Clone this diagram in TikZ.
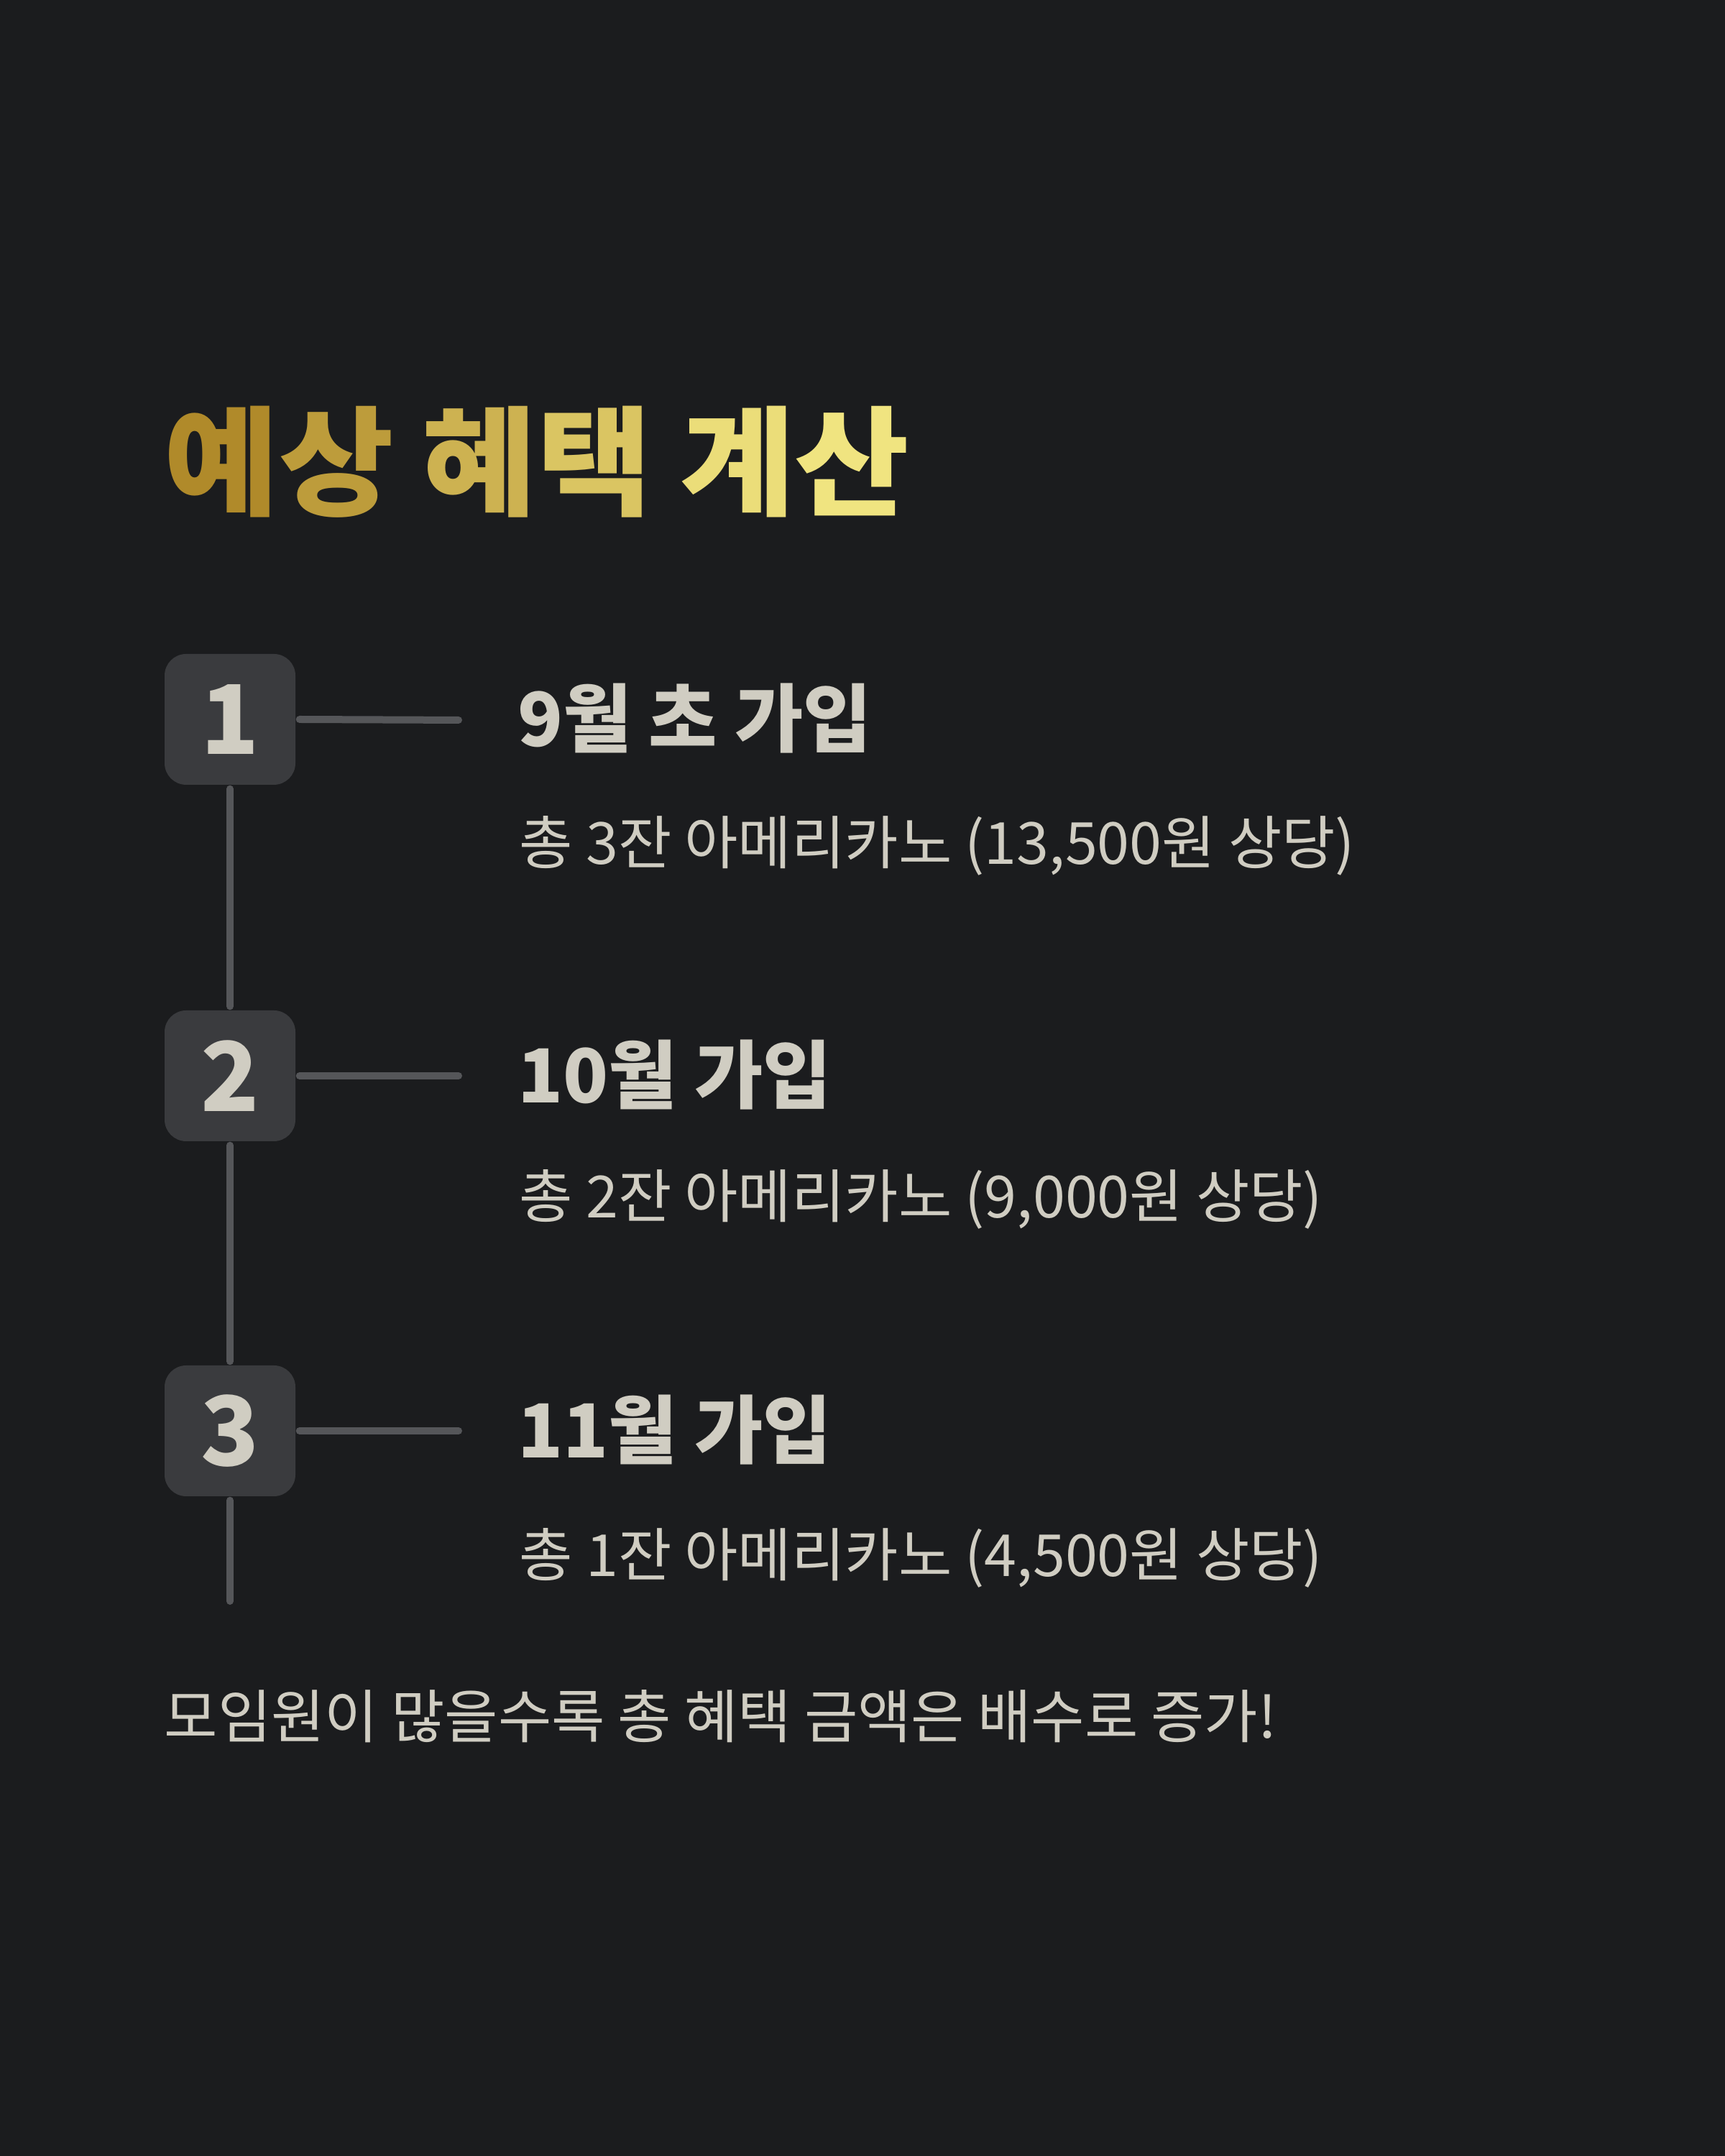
\documentclass[tikz,border=0pt]{standalone}
\usepackage{fontspec}
\usepackage{xcolor}
\usepackage{graphicx}
\usepackage{tikz}
\setmainfont{Noto Sans CJK KR}
\newfontfamily\titlefont{Noto Sans CJK KR Black}
\definecolor{HTBg}{HTML}{1B1C1E}
\definecolor{HTBox}{HTML}{3A3B3E}
\definecolor{HTText}{HTML}{D0CDC2}
\definecolor{HTLine}{HTML}{555659}
\definecolor{HTGold}{HTML}{B08A2A}
\definecolor{HTYellow}{HTML}{F0E480}

\begin{document}
\begin{tikzpicture}[x=1cm,y=1cm,
  stepbox/.style={fill=HTBox,rounded corners=0.30cm,minimum width=1.82cm,minimum height=1.82cm,inner sep=0pt,text=HTText,font=\fontsize{38}{40}\selectfont\bfseries},
  headtxt/.style={anchor=west,inner sep=0pt,text=HTText,font=\fontsize{29.5}{34}\selectfont\bfseries},
  subtxt/.style={anchor=west,inner sep=0pt,text=HTText,font=\fontsize{23}{28}\selectfont},
  tick/.style={draw=HTLine,line width=0.10cm,line cap=round,shorten <=0.05cm},
  spine/.style={draw=HTLine,line width=0.10cm,line cap=round,shorten <=0.05cm,shorten >=0.05cm}]
\fill[HTBg] (0,0) rectangle (24.00,30.00);
\path[use as bounding box] (0,0) rectangle (24.00,30.00);
% title
\node[anchor=west,inner sep=0pt,font=\fontsize{47}{56}\selectfont\titlefont] (title) at (2.28,23.57)
  {\scalebox{1.05}[1]{\textcolor{HTGold}{예}\textcolor{HTGold!80!HTYellow}{상} \textcolor{HTGold!55!HTYellow}{혜}\textcolor{HTGold!35!HTYellow}{택} \textcolor{HTGold!8!HTYellow}{계}\textcolor{HTYellow}{산}}};
% steps
\node[stepbox] (n1) at (3.20,19.99) {1};
\node[stepbox] (n2) at (3.20,15.03) {2};
\node[stepbox] (n3) at (3.20,10.09) {3};
\coordinate (t1) at (6.38,19.98);
\coordinate (t2) at (6.38,15.03);
\coordinate (t3) at (6.38,10.09);
\draw[tick] (n1.east) -- (t1);
\draw[tick] (n2.east) -- (t2);
\draw[tick] (n3.east) -- (t3);
\draw[spine] (n1.south) -- (n2.north);
\draw[spine] (n2.south) -- (n3.north);
\coordinate (tail) at (3.20,7.72);
\draw[spine,shorten >=0cm] (n3.south) -- (tail);
\node[headtxt] (h1) at (7.20,20.00) {9월 초 가입};
\node[subtxt] (s1) at (7.22,18.23) {총 3잔 아메리카노 (13,500원 상당)};
\node[headtxt] (h2) at (7.20,15.04) {10월 가입};
\node[subtxt] (s2) at (7.22,13.31) {총 2잔 아메리카노 (9,000원 상당)};
\node[headtxt] (h3) at (7.20,10.10) {11월 가입};
\node[subtxt] (s3) at (7.22,8.32) {총 1잔 아메리카노 (4,500원 상당)};
% footer
\node[subtxt] (foot) at (2.28,6.12) {모임원이 많을수록 총 혜택 금액은 배수로 증가!};
\end{tikzpicture}
\end{document}
